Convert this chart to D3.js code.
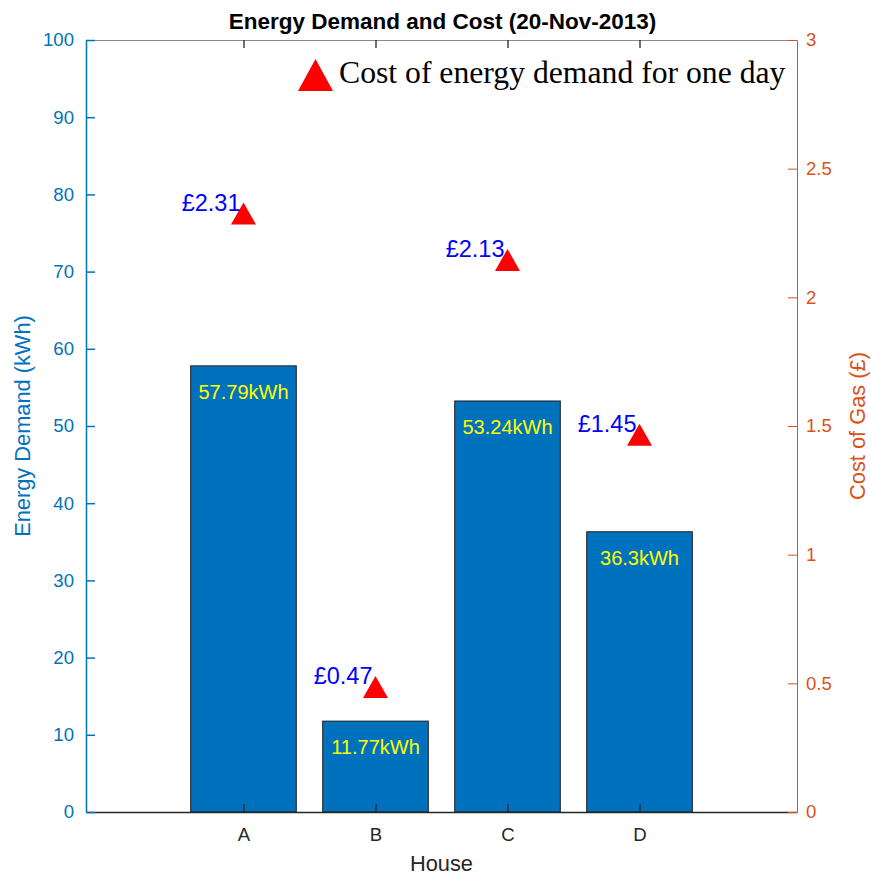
<!DOCTYPE html>
<html>
<head>
<meta charset="utf-8">
<script src="https://cdn.jsdelivr.net/npm/d3@7"></script>
<style>
  html, body { margin: 0; padding: 0; background: #fff; }
  svg { display: block; font-family: Arial, "Liberation Sans", Helvetica, sans-serif; }
</style>
</head>
<body>
<svg id="chart" width="871" height="877"></svg>
<script>
// Houses and their daily figures
const houses = ["A", "B", "C", "D"];
const demandKWh = [57.79, 11.77, 53.24, 36.3];
const costGBP = [2.31, 0.47, 2.13, 1.45];

// Tick values for both y axes
const leftTicks = [0, 10, 20, 30, 40, 50, 60, 70, 80, 90, 100];
const rightTicks = [0, 0.5, 1, 1.5, 2, 2.5, 3];
const rightTickLabels = ["0", "0.5", "1", "1.5", "2", "2.5", "3"];

const titleText = "Energy Demand and Cost (20-Nov-2013)";
const legendText = "Cost of energy demand for one day";

const BLUE = "#0072BD";
const ORANGE = "#D95319";
const DARK = "#262626";

const plot = { left: 86, right: 797, top: 40, bottom: 812 };

const svg = d3.select("#chart");

const x = d3.scalePoint()
  .domain(houses)
  .range([plot.left, plot.right])
  .padding(1.193);
const barW = x.step() * 0.8;

const yL = d3.scaleLinear().domain([0, 100]).range([plot.bottom, plot.top]);
const yR = d3.scaleLinear().domain([0, 3]).range([plot.bottom, plot.top]);

// Bars
svg.append("g").selectAll("rect")
  .data(houses)
  .join("rect")
  .attr("x", (d) => x(d) - barW / 2)
  .attr("y", (d, i) => yL(demandKWh[i]))
  .attr("width", barW)
  .attr("height", (d, i) => yL(0) - yL(demandKWh[i]))
  .attr("fill", BLUE)
  .attr("stroke", "#1f1f1f")
  .attr("stroke-width", 1);

// Bar value labels
svg.append("g").selectAll("text")
  .data(houses)
  .join("text")
  .attr("x", (d) => x(d))
  .attr("y", (d, i) => yL(demandKWh[i]) + 33)
  .attr("text-anchor", "middle")
  .attr("font-size", 20)
  .attr("fill", "#FFFF00")
  .text((d, i) => demandKWh[i] + "kWh");

// Top axis (ticks only, box edge)
const gTop = svg.append("g")
  .attr("transform", `translate(0,${plot.top})`)
  .call(d3.axisTop(x).tickSizeInner(-8).tickSizeOuter(0).tickFormat(""));
gTop.select(".domain").attr("stroke", "#8a8a8a").attr("stroke-width", 1);
gTop.selectAll(".tick line").attr("stroke", DARK).attr("stroke-width", 1.3);

// Bottom axis
const gBottom = svg.append("g")
  .attr("transform", `translate(0,${plot.bottom})`)
  .call(d3.axisBottom(x).tickSizeInner(-8).tickSizeOuter(0).tickPadding(16));
gBottom.select(".domain").attr("stroke", DARK).attr("stroke-width", 1.6);
gBottom.selectAll(".tick line").attr("stroke", DARK).attr("stroke-width", 1.3);
gBottom.selectAll(".tick text").attr("font-size", 18.6).attr("fill", DARK).attr("font-family", null);

// Left axis
const gLeft = svg.append("g")
  .attr("transform", `translate(${plot.left},0)`)
  .call(d3.axisLeft(yL).tickValues(leftTicks).tickSizeInner(-9).tickSizeOuter(0).tickPadding(12));
gLeft.select(".domain").attr("stroke", BLUE).attr("stroke-width", 1.5);
gLeft.selectAll(".tick line").attr("stroke", BLUE).attr("stroke-width", 1.5);
gLeft.selectAll(".tick text").attr("font-size", 18.6).attr("fill", BLUE).attr("font-family", null);

// Right axis
const gRight = svg.append("g")
  .attr("transform", `translate(${plot.right},0)`)
  .call(d3.axisRight(yR).tickValues(rightTicks).tickSizeInner(-9).tickSizeOuter(0).tickPadding(9)
    .tickFormat((d, i) => rightTickLabels[i]));
gRight.select(".domain").attr("stroke", ORANGE).attr("stroke-width", 1);
gRight.selectAll(".tick line").attr("stroke", ORANGE).attr("stroke-width", 1);
gRight.selectAll(".tick text").attr("font-size", 18.6).attr("fill", ORANGE).attr("font-family", null);

// Cost markers (upward triangles)
const tri = (cx, cy, w, up, down) =>
  `M${cx},${cy - up}L${cx + w / 2},${cy + down}L${cx - w / 2},${cy + down}Z`;

svg.append("g").selectAll("path")
  .data(houses)
  .join("path")
  .attr("d", (d, i) => tri(x(d), yR(costGBP[i]), 25, 15, 7))
  .attr("fill", "#FF0000");

// Cost labels
svg.append("g").selectAll("text")
  .data(houses)
  .join("text")
  .attr("x", (d) => x(d) - 3)
  .attr("y", (d, i) => yR(costGBP[i]) - 7)
  .attr("text-anchor", "end")
  .attr("font-size", 23.5)
  .attr("fill", "#0000FF")
  .text((d, i) => "£" + costGBP[i].toFixed(2));

// Legend
svg.append("path")
  .attr("d", tri(315.5, 81, 35, 22, 10))
  .attr("fill", "#FF0000");
svg.append("text")
  .attr("x", 339)
  .attr("y", 83)
  .attr("font-family", "'Liberation Serif', 'Times New Roman', serif")
  .attr("font-size", 31.7)
  .attr("fill", "#000")
  .text(legendText);

// Title
svg.append("text")
  .attr("x", (plot.left + plot.right) / 2 + 1)
  .attr("y", 29)
  .attr("text-anchor", "middle")
  .attr("font-size", 22.5)
  .attr("font-weight", "bold")
  .attr("fill", "#000")
  .text(titleText);

// Axis labels
svg.append("text")
  .attr("x", (plot.left + plot.right) / 2)
  .attr("y", 871)
  .attr("text-anchor", "middle")
  .attr("font-size", 21.8)
  .attr("fill", DARK)
  .text("House");

svg.append("text")
  .attr("transform", `translate(29.5,${(plot.top + plot.bottom) / 2}) rotate(-90)`)
  .attr("text-anchor", "middle")
  .attr("font-size", 21.8)
  .attr("fill", BLUE)
  .text("Energy Demand (kWh)");

svg.append("text")
  .attr("transform", `translate(865,${(plot.top + plot.bottom) / 2}) rotate(-90)`)
  .attr("text-anchor", "middle")
  .attr("font-size", 21.8)
  .attr("fill", ORANGE)
  .text("Cost of Gas (£)");
</script>
</body>
</html>
